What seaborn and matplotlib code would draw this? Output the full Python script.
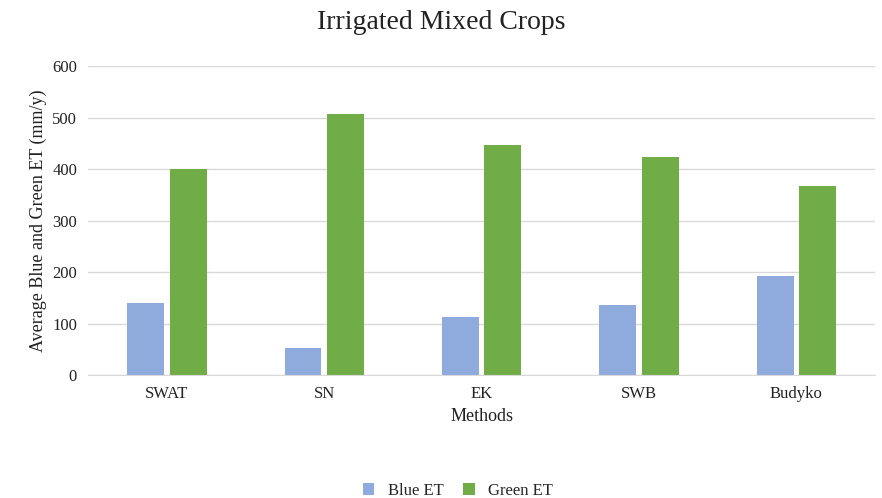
import matplotlib
matplotlib.use("Agg")
import matplotlib.pyplot as plt
import seaborn as sns
import pandas as pd

methods = ["SWAT", "SN", "EK", "SWB", "Budyko"]
blue_et = [140, 52, 113, 136, 192]
green_et = [401, 507, 447, 423, 367]

df = pd.DataFrame({
    "Methods": methods * 2,
    "value": blue_et + green_et,
    "series": ["Blue ET"] * 5 + ["Green ET"] * 5,
})

sns.set_style("white")
plt.rcParams["font.family"] = ["Liberation Serif", "DejaVu Serif"]

fig = plt.figure(figsize=(8.82, 4.98), dpi=100)
ax = fig.add_axes([0.1, 0.247, 0.892, 0.62])
sns.barplot(data=df, x="Methods", y="value", hue="series",
            palette=["#8FAADC", "#70AD47"], saturation=1, width=0.54, gap=0.13,
            linewidth=0, ax=ax, legend=True)
ax.set_ylim(0, 600)
ax.set_yticks(range(0, 601, 100))
ax.yaxis.grid(True, color="#D9D9D9", lw=1)
ax.set_axisbelow(True)
for s in ["top", "right", "left"]:
    ax.spines[s].set_visible(False)
ax.spines["bottom"].set_color("#D9D9D9")
ax.tick_params(axis="both", length=0, labelsize=12, colors="#222222", pad=8)
ax.set_xlabel("Methods", fontsize=13, color="#222222")
ax.set_ylabel("Average Blue and Green ET (mm/y)", fontsize=13, color="#222222")
fig.suptitle("Irrigated Mixed Crops", fontsize=20, y=0.98, color="#222222")
ax.legend(loc="upper center", bbox_to_anchor=(0.47, -0.3), ncol=2, frameon=False,
          fontsize=12, handlelength=0.7, handleheight=0.7, columnspacing=1.2, title=None)
fig.savefig("out.png", dpi=100)
